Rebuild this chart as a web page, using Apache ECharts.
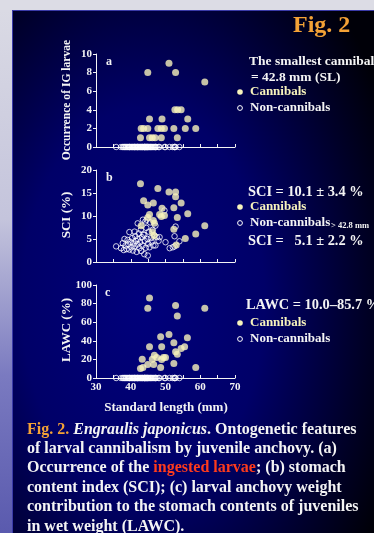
<!DOCTYPE html>
<html>
<head>
<meta charset="utf-8">
<script src="https://cdn.jsdelivr.net/npm/echarts@6/dist/echarts.min.js"></script>
<style>
  html, body { margin: 0; padding: 0; width: 374px; height: 533px; overflow: hidden; background: #dcdce5; }
  #side { position: absolute; left: 0; top: 10px; width: 12px; height: 523px;
          background: linear-gradient(#dadae4 0%, #c4c4dc 40%, #7a7ac0 70%, #5a5aae 100%); }
  #panel { position: absolute; left: 12px; top: 10px; width: 362px; height: 523px; box-sizing: border-box;
           border-left: 1px solid #3a3aa8; border-top: 1px solid #3a3aa8;
           background: radial-gradient(ellipse 270px 430px at 130px 290px, #00007c 0%, #000068 45%, #00002a 80%, #000008 100%); }
  #chart { position: absolute; left: 0; top: 0; width: 374px; height: 533px; }
</style>
</head>
<body>
<div id="side"></div>
<div id="panel"></div>
<div id="chart"></div>
<script>
// Standard length (mm) range and ticks shared by the three panels
const slMin = 30, slMax = 70, slStep = 5;

// (a) occurrence of ingested larvae — cannibals
const igSL    = [44.9, 51.0, 52.9, 61.3, 52.7, 53.5, 54.5, 45.4, 49.0, 56.4,
                 43.0, 43.7, 44.9, 47.8, 48.8, 49.7, 52.4, 55.7, 58.7,
                 42.8, 45.4, 46.2, 47.0, 48.8, 53.4];
const igCount = [8, 9, 8, 7, 4, 4, 4, 3, 3, 3,
                 2, 2, 2, 2, 2, 2, 2, 2, 2,
                 1, 1, 1, 1, 1, 1];

// (b) stomach content index — cannibals
const sciSL  = [42.8, 43.7, 44.9, 46.5, 47.8, 51.0, 52.9, 52.9, 54.5, 52.4,
                49.0, 45.4, 44.9, 48.3, 48.8, 49.7, 56.4, 53.4, 46.5, 46.8,
                43.0, 46.2, 46.7, 52.4, 58.7, 61.3, 55.7, 53.1];
const sciVal = [17.0, 13.3, 12.4, 12.8, 16.0, 15.2, 15.2, 14.2, 12.8, 11.8,
                11.7, 10.3,  9.7, 10.3,  9.9, 10.1, 10.5,  9.7,  9.0,  8.4,
                 7.9,  6.6,  5.7,  7.1,  6.1,  7.9,  5.1,  3.7];

// (c) larval anchovy weight contribution — cannibals
const lawcSL  = [45.4, 44.9, 52.9, 53.4, 61.3, 48.6, 51.0, 56.3, 45.4, 48.9,
                 52.4, 54.5, 55.5, 52.9, 53.4, 46.8, 47.5, 46.2, 43.3, 49.4,
                 50.0, 48.9, 46.6, 44.9, 52.4, 48.6, 42.8, 43.5, 58.7];
const lawcVal = [85.9, 75.1, 78.0, 66.8, 75.1, 44.4, 46.9, 43.3, 33.6, 33.6,
                 37.9, 31.8, 33.6, 28.2, 25.6, 24.5, 22.0, 20.2, 20.2, 22.0,
                 22.0, 19.9, 14.4, 14.4, 15.5, 11.2, 10.1, 11.2, 11.2];

// Non-cannibals: standard length and SCI (no larvae found, so IG = 0 and LAWC = 0)
const nonSL  = [35.8, 37.2, 37.7, 38.0, 38.2, 38.5, 38.8, 39.1, 39.3, 39.6,
                39.6, 39.9, 40.2, 40.4, 40.6, 40.8, 41.1, 41.1, 41.3, 41.5,
                41.7, 41.9, 42.0, 42.1, 42.3, 42.5, 42.7, 42.9, 43.0, 43.2,
                43.4, 43.5, 43.6, 43.9, 43.9, 44.0, 44.2, 44.3, 44.5, 44.6,
                44.8, 44.9, 45.0, 45.2, 45.4, 45.6, 45.8, 46.0, 46.3, 46.5,
                46.8, 47.1, 47.1, 47.5, 48.0, 48.3, 49.7, 50.0, 51.2, 52.1,
                52.6, 52.9, 54.0, 52.6];
const nonSCI = [3.4, 3.0, 4.1, 2.6, 5.0, 3.6, 2.8, 4.8, 3.9, 6.5,
                2.7, 4.4, 3.2, 5.2, 2.5, 4.0, 6.6, 3.4, 5.6, 4.6,
                2.2, 3.8, 8.4, 5.0, 6.2, 3.0, 4.3, 7.0, 2.4, 5.4,
                3.6, 9.2, 6.0, 1.7, 5.9, 4.6, 8.8, 3.1, 7.4, 9.2,
                5.0, 1.4, 4.0, 6.6, 3.2, 8.6, 5.2, 4.4, 7.0, 3.6,
                5.8, 7.9, 3.6, 5.4, 4.6, 5.4, 11.2, 4.3, 3.0, 3.2,
                5.6, 7.7, 4.5, 3.4];

const yTicks = [
  { min: 0, max: 10,  interval: 2 },
  { min: 0, max: 20,  interval: 5 },
  { min: 0, max: 100, interval: 20 }
];

const SERIF = "'Liberation Serif', 'Times New Roman', serif";
const WHITE = '#f4f4f4';
const CREAM = '#f7f3bc';

const chart = echarts.init(document.getElementById('chart'), null, { renderer: 'canvas' });

const grids = [
  { left: 96, top: 54,  width: 139, height: 93 },
  { left: 96, top: 170, width: 139, height: 92 },
  { left: 96, top: 285, width: 139, height: 93 }
];

const xAxes = grids.map((g, i) => ({
  type: 'value', gridIndex: i, min: slMin, max: slMax, interval: slStep,
  axisLine: { show: true, onZero: false, lineStyle: { color: WHITE, width: 1 } },
  axisTick: { show: true, inside: true, length: 3, lineStyle: { color: WHITE } },
  splitLine: { show: false },
  axisLabel: {
    show: i === 2, margin: 4, color: WHITE,
    fontFamily: SERIF, fontWeight: 'bold', fontSize: 11,
    formatter: v => (v % 10 === 0 ? String(v) : '')
  }
}));

const yAxes = yTicks.map((t, i) => ({
  type: 'value', gridIndex: i, min: t.min, max: t.max, interval: t.interval,
  axisLine: { show: true, lineStyle: { color: WHITE, width: 1 } },
  axisTick: { show: true, inside: false, length: 3, lineStyle: { color: WHITE } },
  splitLine: { show: false },
  axisLabel: { margin: 4, color: WHITE, fontFamily: SERIF, fontWeight: 'bold', fontSize: 11 }
}));

const zip = (xs, ys) => xs.map((x, k) => [x, ys[k]]);
const openStyle = { color: 'rgba(0,0,0,0)', borderColor: '#ffffff', borderWidth: 1 };
const fillStyle = { color: CREAM };

const series = [
  { type: 'scatter', name: 'Non-cannibals', xAxisIndex: 0, yAxisIndex: 0, symbolSize: 5.5,
    itemStyle: openStyle, data: nonSL.map(x => [x, 0]), silent: true },
  { type: 'scatter', name: 'Cannibals', xAxisIndex: 0, yAxisIndex: 0, symbolSize: 7,
    itemStyle: fillStyle, data: zip(igSL, igCount), silent: true },
  { type: 'scatter', name: 'Non-cannibals', xAxisIndex: 1, yAxisIndex: 1, symbolSize: 5.5,
    itemStyle: openStyle, data: zip(nonSL, nonSCI), silent: true },
  { type: 'scatter', name: 'Cannibals', xAxisIndex: 1, yAxisIndex: 1, symbolSize: 7,
    itemStyle: fillStyle, data: zip(sciSL, sciVal), silent: true },
  { type: 'scatter', name: 'Non-cannibals', xAxisIndex: 2, yAxisIndex: 2, symbolSize: 5.5,
    itemStyle: openStyle, data: nonSL.map(x => [x, 0]), silent: true },
  { type: 'scatter', name: 'Cannibals', xAxisIndex: 2, yAxisIndex: 2, symbolSize: 7,
    itemStyle: fillStyle, data: zip(lawcSL, lawcVal), silent: true }
];

// text helpers for the annotations
function txt(text, x, y, opt) {
  opt = opt || {};
  return {
    type: 'text', x: x, y: y, rotation: opt.rotation || 0, silent: true,
    style: {
      text: text, fill: opt.fill || WHITE,
      font: (opt.style || 'normal') + ' bold ' + (opt.size || 12) + 'px ' + SERIF,
      align: opt.align || 'left', verticalAlign: 'middle', rich: opt.rich
    }
  };
}
function dot(x, y, filled) {
  return {
    type: 'circle', silent: true, shape: { cx: x, cy: y, r: filled ? 2.8 : 2.4 },
    style: filled ? { fill: CREAM } : { fill: 'rgba(0,0,0,0)', stroke: '#ffffff', lineWidth: 1 }
  };
}

const CAP = 16;
const graphic = [
  // heading
  txt('Fig. 2', 293, 26, { fill: '#f4a236', size: 24 }),
  // axis titles
  txt('Occurrence of IG larvae', 67, 100, { rotation: Math.PI / 2, align: 'center', size: 11.6 }),
  txt('SCI (%)', 67, 215, { rotation: Math.PI / 2, align: 'center', size: 13 }),
  txt('LAWC (%)', 67, 330, { rotation: Math.PI / 2, align: 'center', size: 13 }),
  txt('Standard length (mm)', 166, 408, { align: 'center', size: 13 }),
  // panel letters
  txt('a', 106, 62, { size: 12 }),
  txt('b', 106, 178, { size: 12 }),
  txt('c', 105, 293, { size: 12 }),
  // panel a notes
  txt('The smallest cannibal', 249, 62, { size: 13.5 }),
  txt('= 42.8 mm (SL)', 251, 78, { size: 13.5 }),
  dot(240, 92, true), txt('Cannibals', 250, 92, { fill: CREAM, size: 13 }),
  dot(240, 108, false), txt('Non-cannibals', 250, 108, { size: 13 }),
  // panel b notes
  txt('SCI = 10.1 ± 3.4 %', 248, 192, { size: 14.4 }),
  dot(240, 207, true), txt('Cannibals', 250, 207, { fill: CREAM, size: 13 }),
  dot(240, 223, false), txt('Non-cannibals', 250, 223, { size: 13 }),
  txt('> 42.8 mm', 331, 226, { size: 8.5 }),
  txt('SCI =   5.1 ± 2.2 %', 248, 241, { size: 14.4 }),
  // panel c notes
  txt('LAWC = 10.0–85.7 %', 246, 305, { size: 14.4 }),
  dot(240, 323, true), txt('Cannibals', 250, 323, { fill: CREAM, size: 13 }),
  dot(240, 339, false), txt('Non-cannibals', 250, 339, { size: 13 }),
  // caption
  txt('{o|Fig. 2.} {i|Engraulis japonicus}. Ontogenetic features', 27, 430, {
    size: CAP, rich: {
      o: { fill: '#f4a236', font: 'bold ' + CAP + 'px ' + SERIF },
      i: { fill: WHITE, font: 'italic bold ' + CAP + 'px ' + SERIF }
    } }),
  txt('of larval cannibalism by juvenile anchovy. (a)', 27, 449, { size: CAP }),
  txt('Occurrence of the {r|ingested larvae}; (b) stomach', 27, 468, {
    size: CAP, rich: { r: { fill: '#ff3b1c', font: 'bold ' + CAP + 'px ' + SERIF } } }),
  txt('content index (SCI); (c) larval anchovy weight', 27, 488, { size: CAP }),
  txt('contribution to the stomach contents of juveniles', 27, 507, { size: CAP }),
  txt('in wet weight (LAWC).', 27, 527, { size: CAP })
];

chart.setOption({
  backgroundColor: 'transparent',
  animation: false,
  grid: grids,
  xAxis: xAxes,
  yAxis: yAxes,
  series: series,
  graphic: graphic
});
</script>
</body>
</html>
